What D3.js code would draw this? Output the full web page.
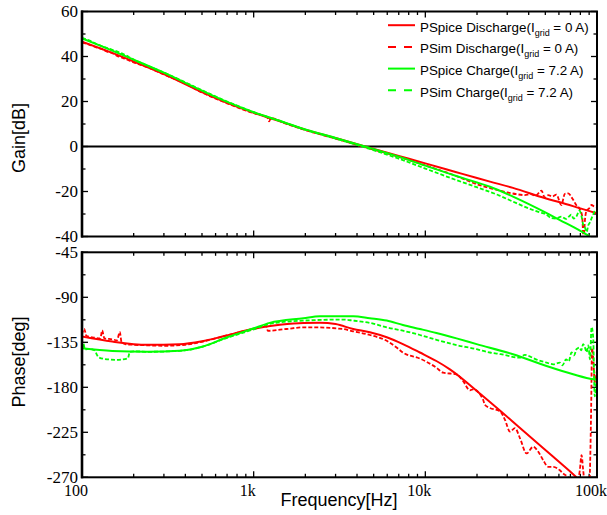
<!DOCTYPE html>
<html><head><meta charset="utf-8">
<script src="https://cdn.jsdelivr.net/npm/d3@7"></script>
<style>body{margin:0;background:#fff}svg{display:block}
.serif{font-family:"Liberation Serif","Times New Roman",serif}
.sans{font-family:"Liberation Sans",Arial,sans-serif}
</style>
</head><body><svg id="c" width="607" height="515"></svg>
<script>
// ---------------- DATA ----------------
const xTickValues = [100, 1000, 10000, 100000];
const xTickLabels = ["100", "1k", "10k", "100k"];
const gainTicks = [60, 40, 20, 0, -20, -40];
const phaseTicks = [-45, -90, -135, -180, -225, -270];

// Gain, PSpice (solid)
const gainFreqPSpice = [100,150,200,300,500,700,1000,1500,2000,3000,4450,7000,10000,15000,20000,23800,32400,50000,60800,80000,100000];
const gainPSpiceDis = [46.6,41.6,37.8,32.2,24.2,19.4,15,10.6,7.5,3.8,0,-4.2,-7.5,-11.3,-14,-15.6,-18.4,-23,-24.8,-27.5,-29.7];
const gainPSpiceChg = [48,42.6,38.6,32.8,24.8,19.8,15.2,10.8,7.6,3.8,0,-4.5,-8.5,-13,-16,-17.9,-22.3,-29.3,-32.7,-37.5,-42];

// Gain, PSim discharge (dashed red)
const gainFreqPSimDis = [100,110,120,130,140,150,160,175,200,250,300,400,500,700,1000,1200,1230,1260,1500,2000,3000,4400,7000,10000,15000,20000,25000,30000,34000,38000,41000,44000,47500,49600,52000,55000,58000,62000,65000,68000,72000,76000,79000,82000,83500,85000,87000,90000,93000,96000,100000];
const gainPSimDis = [46.2,45.3,44.2,43.4,42.2,41.5,40.3,39.2,37.4,34.7,32.0,27.9,24.0,19.2,14.8,13.0,11.2,12.7,10.5,7.3,3.5,-0.2,-4.6,-8.4,-13,-16.8,-18.9,-20.4,-21.2,-21.6,-21.2,-21.8,-19.6,-22.6,-21.6,-22.2,-21.4,-26,-21.0,-20.8,-23.2,-26.2,-27.6,-31,-42,-33,-28.5,-27.5,-26,-26.6,-27];

// Gain, PSim charge (dashed green)
const gainFreqPSimChg = [100,110,120,135,150,175,200,250,300,400,500,700,1000,1500,2000,3000,4400,7000,10000,15000,20800,27000,32400,40000,46000,50800,54000,57500,62000,66000,69000,70800,73000,76000,79000,81000,83000,85000,87000,89000,91000,94000,98000,100000];
const gainPSimChg = [48.3,47.2,45.8,44.2,43.0,41,38.6,35.4,32.9,28.5,25,20,15.3,10.7,7.4,3.5,-0.3,-5.4,-9.8,-14.8,-18.6,-21.8,-24.5,-27.5,-29.2,-30.3,-31.8,-32,-31.2,-32.2,-31,-30.3,-32,-31,-28.5,-30.5,-34.6,-36,-38,-35,-33.7,-31,-28.5,-29.5];

// Phase, PSpice discharge (solid red)
const phaseFreqPSpiceDis = [100,150,240,370,500,665,1000,1420,1950,2430,3000,3800,4750,5960,7400,9300,11600,13900,21700,34000,55600,69500,80000,90000];
const phasePSpiceDis = [-129.3,-134.3,-137.5,-137,-134,-129,-121.5,-117.5,-115.6,-115.5,-116.8,-121.7,-125,-130,-136.8,-145.2,-153.7,-162,-189,-217.6,-249.5,-264,-273.5,-281];

// Phase, PSpice charge (solid green)
const phaseFreqPSpiceChg = [100,150,240,370,500,700,1000,1240,1950,2430,3800,4750,5960,7400,9300,11600,15200,19900,32400,50800,72600,95000,100000];
const phasePSpiceChg = [-141,-143.7,-144.5,-143.5,-139.5,-130,-121,-115.6,-110.9,-108.9,-108.9,-110.9,-113.3,-117.7,-121.7,-125.7,-131.1,-136.8,-146.9,-158.7,-167,-172,-172.5];

// Phase, PSim discharge (dashed red)
const phaseFreqPSimDis = [100,103,106,115,128,131,135,150,160,166,170,180,200,240,300,400,500,700,1000,1180,1210,1550,1950,2230,3300,3800,4750,5960,6800,7400,9300,11600,12700,15200,16600,18200,19000,21700,22200,23800,27200,29100,31100,33300,35600,38900,42500,45500,48600,52000,55600,60800,63600,68000,74000,79400,81300,83000,86000,90000,92500,93500,95000,97000,100000];
const phasePSimDis = [-127,-121.5,-128.5,-130,-131,-123,-131,-132,-133,-124.5,-135,-137,-137.5,-138,-138.5,-137.5,-134.5,-128,-121.5,-118.5,-123.5,-121.7,-120,-120,-121.7,-124,-127.7,-133.5,-140.2,-145.2,-151.3,-160.4,-165.4,-167,-173.8,-183,-182,-192.3,-197.4,-200.7,-204,-212.5,-224.3,-220.9,-231,-246.1,-239.5,-244.5,-252.9,-259.6,-259.6,-263,-266.3,-270,-282,-263,-247.8,-262,-285,-280,-199,-141,-150,-175,-162];

// Phase, PSim charge (dashed green)
const phaseFreqPSimChg = [100,102,104,110,118,125,140,160,185,190,200,240,370,500,700,1000,1240,1950,3300,3800,4750,5960,7400,9300,11600,15200,19900,23800,27500,35500,38000,40800,44000,50800,55600,60800,63000,66000,68500,71000,73500,76000,79000,81000,83000,85000,87000,89000,91000,93000,95000,97000,100000];
const phasePSimChg = [-142,-136.5,-142,-141.5,-143,-150,-152,-152.5,-151,-144.5,-144,-144.5,-143.5,-139.5,-130.5,-122,-116.6,-113.3,-112.3,-113.3,-115.6,-120,-123.4,-127.7,-132.5,-137.8,-141.9,-145.2,-146.9,-150.3,-147.5,-149.3,-152,-155.3,-157,-155.3,-158,-152,-154,-145.2,-148,-141.9,-140.2,-143,-136.8,-140,-145,-138,-152,-119.7,-130,-189,-162];

const legendLabels = [
  {pre: "PSpice Discharge(I", sub: "grid", post: " = 0 A)", color: "#ff0000", dash: null},
  {pre: "PSim Discharge(I", sub: "grid", post: " = 0 A)", color: "#ff0000", dash: "8,8"},
  {pre: "PSpice Charge(I", sub: "grid", post: " = 7.2 A)", color: "#00ff00", dash: null},
  {pre: "PSim Charge(I", sub: "grid", post: " = 7.2 A)", color: "#00ff00", dash: "8,8"}
];

// ---------------- CHART ----------------
const svg = d3.select("#c");
const L = 82, R = 597;
const x = d3.scaleLog().domain([100, 100000]).range([L, R]);
const yG = d3.scaleLinear().domain([-40, 60]).range([236.5, 11.5]);
const yP = d3.scaleLinear().domain([-270, -45]).range([477.3, 252.3]);
const RED = "#ff0000", GREEN = "#00ff00";

const minorX = [];
[100, 1000, 10000].forEach(d => { for (let k = 2; k <= 9; k++) minorX.push(d * k); });

function zip(f, v) { return f.map((d, i) => [d, v[i]]); }

function panel(y, id, majors, minorStep, withLabels) {
  const [d0, d1] = y.domain();
  const top = y(d1), bot = y(d0);
  svg.append("clipPath").attr("id", id).append("rect")
    .attr("x", L).attr("y", top).attr("width", R - L).attr("height", bot - top);
  const minorsY = d3.range(d0, d1 + 0.001, minorStep).filter(v => !majors.includes(v));
  const g = svg.append("g").attr("stroke", "#000").attr("stroke-width", 1.3);
  majors.forEach(v => {
    g.append("line").attr("x1", L).attr("x2", L + 6).attr("y1", y(v)).attr("y2", y(v));
    g.append("line").attr("x1", R).attr("x2", R - 6).attr("y1", y(v)).attr("y2", y(v));
  });
  minorsY.forEach(v => {
    g.append("line").attr("x1", L).attr("x2", L + 3.5).attr("y1", y(v)).attr("y2", y(v));
    g.append("line").attr("x1", R).attr("x2", R - 3.5).attr("y1", y(v)).attr("y2", y(v));
  });
  xTickValues.forEach(v => {
    g.append("line").attr("x1", x(v)).attr("x2", x(v)).attr("y1", bot).attr("y2", bot - 6);
    g.append("line").attr("x1", x(v)).attr("x2", x(v)).attr("y1", top).attr("y2", top + 6);
  });
  minorX.forEach(v => {
    g.append("line").attr("x1", x(v)).attr("x2", x(v)).attr("y1", bot).attr("y2", bot - 3.5);
    g.append("line").attr("x1", x(v)).attr("x2", x(v)).attr("y1", top).attr("y2", top + 3.5);
  });
  svg.append("g").selectAll("text").data(majors).join("text")
    .attr("class", "serif")
    .attr("x", L - 4).attr("y", d => y(d)).attr("dy", "0.33em")
    .attr("text-anchor", "end").attr("font-size", 17)
    .text(d => d);
  if (withLabels) {
    svg.append("g").selectAll("text").data(xTickValues).join("text")
      .attr("class", "serif")
      .attr("x", d => x(d) - 6).attr("y", 496)
      .attr("text-anchor", "middle").attr("font-size", 16)
      .text((d, i) => xTickLabels[i]);
  }
  return {top, bot};
}

const pG = panel(yG, "clipG", gainTicks, 10, false);
const pP = panel(yP, "clipP", phaseTicks, 22.5, true);

svg.append("line").attr("x1", L).attr("x2", R).attr("y1", yG(0)).attr("y2", yG(0))
  .attr("stroke", "#000").attr("stroke-width", 2);

function draw(y, clip, data, color, dash) {
  const line = d3.line().x(d => x(d[0])).y(d => y(d[1])).curve(d3.curveMonotoneX);
  svg.append("path").attr("clip-path", `url(#${clip})`)
    .attr("d", line(data)).attr("fill", "none").attr("stroke", color)
    .attr("stroke-width", dash ? 1.8 : 2).attr("stroke-dasharray", dash);
}

draw(yG, "clipG", zip(gainFreqPSpice, gainPSpiceDis), RED, null);
draw(yG, "clipG", zip(gainFreqPSimDis, gainPSimDis), RED, "4,2");
draw(yG, "clipG", zip(gainFreqPSpice, gainPSpiceChg), GREEN, null);
draw(yG, "clipG", zip(gainFreqPSimChg, gainPSimChg), GREEN, "4,2");

draw(yP, "clipP", zip(phaseFreqPSpiceDis, phasePSpiceDis), RED, null);
draw(yP, "clipP", zip(phaseFreqPSimDis, phasePSimDis), RED, "4,2");
draw(yP, "clipP", zip(phaseFreqPSpiceChg, phasePSpiceChg), GREEN, null);
draw(yP, "clipP", zip(phaseFreqPSimChg, phasePSimChg), GREEN, "4,2");

[pG, pP].forEach(p => {
  svg.append("rect").attr("x", L).attr("y", p.top).attr("width", R - L).attr("height", p.bot - p.top)
    .attr("fill", "none").attr("stroke", "#000").attr("stroke-width", 2);
  svg.append("line").attr("x1", L).attr("x2", L).attr("y1", p.top - 1).attr("y2", p.bot + 1)
    .attr("stroke", "#000").attr("stroke-width", 2.6);
});

svg.append("text").attr("class", "sans").attr("transform", "translate(25,138) rotate(-90)")
  .attr("text-anchor", "middle").attr("font-size", 18).text("Gain[dB]");
svg.append("text").attr("class", "sans").attr("transform", "translate(25,362) rotate(-90)")
  .attr("text-anchor", "middle").attr("font-size", 18).text("Phase[deg]");
svg.append("text").attr("class", "sans").attr("x", 339).attr("y", 506)
  .attr("text-anchor", "middle").attr("font-size", 18).text("Frequency[Hz]");

const lg = svg.append("g");
legendLabels.forEach((d, i) => {
  const base = 31.7 + i * 21.7;
  lg.append("line").attr("x1", 388).attr("x2", 415).attr("y1", base - 6.5).attr("y2", base - 6.5)
    .attr("stroke", d.color).attr("stroke-width", 2).attr("stroke-dasharray", d.dash);
  const t = lg.append("text").attr("class", "sans").attr("x", 420).attr("y", base)
    .attr("font-size", 13.4);
  t.append("tspan").text(d.pre);
  t.append("tspan").attr("font-size", 9).attr("dy", 4).text(d.sub);
  t.append("tspan").attr("dy", -4).text(d.post);
});
</script>
</body></html>
